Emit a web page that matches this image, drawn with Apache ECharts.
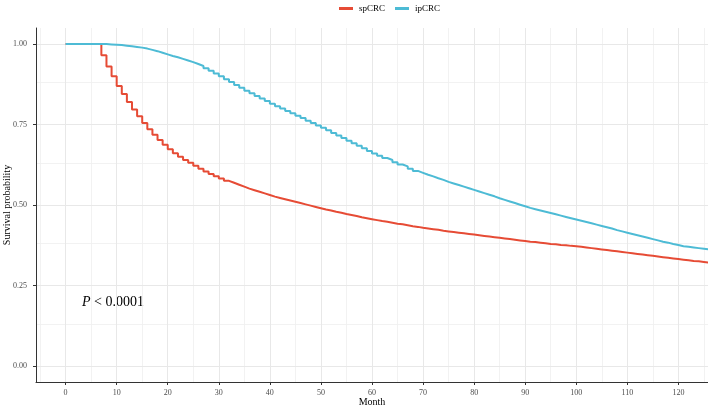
<!DOCTYPE html>
<html>
<head>
<meta charset="utf-8">
<script src="https://cdn.jsdelivr.net/npm/echarts@6/dist/echarts.min.js"></script>
<style>
html,body{margin:0;padding:0;background:#fff;}
#chart{width:708px;height:407px;}
</style>
</head>
<body>
<div id="chart"></div>
<script>
// Month (x)
var months = [0,1,2,3,4,5,6,7,8,9,10,11,12,13,14,15,16,17,18,19,20,21,22,23,24,25,26,27,28,29,30,31,32,33,34,35,36,37,38,39,40,41,42,43,44,45,46,47,48,49,50,51,52,53,54,55,56,57,58,59,60,61,62,63,64,65,66,67,68,69,70,71,72,73,74,75,76,77,78,79,80,81,82,83,84,85,86,87,88,89,90,91,92,93,94,95,96,97,98,99,100,101,102,103,104,105,106,107,108,109,110,111,112,113,114,115,116,117,118,119,120,121,122,123,124,125,126];
// spCRC survival probability
var spCRC = [1,1,1,1,1,1,1,
  0.965,0.93,0.90,0.87,0.845,0.82,0.797,0.776,0.755,0.735,
  0.718,0.702,0.687,0.673,0.661,0.650,0.640,0.631,0.622,0.613,
  0.604,0.596,0.589,0.582,0.575,0.569,0.563,0.557,0.551,0.546,
  0.541,0.536,0.531,0.526,0.522,0.518,0.514,0.510,0.506,0.502,
  0.498,0.494,0.490,0.486,0.483,0.479,0.476,0.472,0.469,0.466,
  0.462,0.459,0.456,0.453,0.450,0.448,0.445,0.442,0.440,0.437,
  0.434,0.432,0.429,0.427,0.425,0.423,0.420,0.418,0.416,0.414,
  0.412,0.410,0.408,0.406,0.404,0.402,0.400,0.398,0.396,0.394,
  0.392,0.390,0.388,0.386,0.385,0.383,0.381,0.379,0.378,0.376,
  0.375,0.373,0.372,0.370,
  0.368,0.366,0.364,0.362,0.360,0.358,0.356,0.354,0.352,0.350,
  0.348,0.346,0.344,0.342,0.340,0.338,0.336,0.334,0.332,0.330,
  0.328,0.326,0.325,0.323,0.321,0.320];
// ipCRC survival probability
var ipCRC = [1,1,1,1,1,1,1,1,
  0.999,0.998,0.997,0.995,0.993,0.991,0.989,0.986,0.982,0.978,
  0.973,0.968,0.963,0.959,0.954,0.949,0.944,0.938,0.932,0.925,
  0.917,0.909,0.900,0.891,0.882,0.873,0.864,0.855,0.847,0.839,
  0.831,0.823,0.815,0.807,0.800,0.792,0.785,0.777,0.770,0.762,
  0.755,0.747,0.740,0.732,0.724,0.716,0.708,0.700,0.692,0.684,
  0.676,0.668,0.660,0.653,0.646,0.640,0.633,0.626,0.620,0.613,
  0.606,0.600,0.594,0.589,0.583,0.578,0.572,0.567,0.562,0.557,
  0.552,0.547,0.542,0.537,0.532,0.527,0.521,0.516,0.511,0.506,
  0.501,0.496,0.491,0.487,0.483,0.479,0.475,0.471,0.467,0.463,
  0.459,0.455,0.451,0.447,0.443,0.439,0.435,0.431,0.427,0.422,
  0.418,0.414,0.410,0.406,0.402,0.398,0.394,0.390,0.386,0.383,
  0.379,0.376,0.372,0.370,0.368,0.366,0.364,0.362,0.361];
// Tick labels
var xTicks = [0,10,20,30,40,50,60,70,80,90,100,110,120];
var yTicks = [0,0.25,0.5,0.75,1];
var xMinorGrid = [-5,5,15,25,35,45,55,65,75,85,95,105,115,125];
var yMinorGrid = [0.125,0.375,0.625,0.875];
var seriesNames = ['spCRC','ipCRC'];

var FONT = '"Liberation Serif","Times New Roman",serif';
var RED = '#E64B35', BLUE = '#4DBBD5';

function pairs(xs, ys){ var o=[]; for (var i=0;i<xs.length;i++) o.push([xs[i], ys[i]]); return o; }

var gridLines = [];
xMinorGrid.forEach(function(v){ gridLines.push({xAxis:v, lineStyle:{color:'#efefef', width:0.8, type:'solid'}}); });
yMinorGrid.forEach(function(v){ gridLines.push({yAxis:v, lineStyle:{color:'#efefef', width:0.8, type:'solid'}}); });
xTicks.forEach(function(v){ gridLines.push({xAxis:v, lineStyle:{color:'#e8e8e8', width:1, type:'solid'}}); });
yTicks.forEach(function(v){ gridLines.push({yAxis:v, lineStyle:{color:'#e8e8e8', width:1, type:'solid'}}); });

var chart = echarts.init(document.getElementById('chart'), null, {renderer:'canvas'});
chart.setOption({
  animation:false,
  backgroundColor:'#fff',
  textStyle:{fontFamily:FONT},
  grid:{left:36, right:0, top:28, bottom:25, containLabel:false, outerBoundsMode:'none'},
  legend:{
    data:seriesNames, top:-1, left:334, itemWidth:14, itemHeight:3, itemGap:10,
    icon:'rect',
    textStyle:{fontFamily:FONT, fontSize:9, color:'#000', padding:[0,0,0,1]}
  },
  xAxis:{
    type:'value', min:-5.8, max:125.8,
    name:'Month', nameLocation:'middle', nameGap:15, nameMoveOverlap:false,
    nameTextStyle:{fontFamily:FONT, fontSize:10, color:'#000'},
    axisLine:{show:true, onZero:false, lineStyle:{color:'#333', width:1}},
    axisTick:{show:true, customValues:xTicks, length:3, lineStyle:{color:'#333'}},
    axisLabel:{show:true, customValues:xTicks, fontFamily:FONT, fontSize:8, color:'#4d4d4d', margin:7},
    splitLine:{show:false}
  },
  yAxis:{
    type:'value', min:-0.05, max:1.05,
    name:'Survival probability', nameLocation:'middle', nameGap:24, nameMoveOverlap:false,
    nameTextStyle:{fontFamily:FONT, fontSize:10, color:'#000'},
    axisLine:{show:true, onZero:false, lineStyle:{color:'#333', width:1}},
    axisTick:{show:true, customValues:yTicks, length:3, lineStyle:{color:'#333'}},
    axisLabel:{show:true, customValues:yTicks, fontFamily:FONT, fontSize:8, color:'#4d4d4d', margin:9,
      formatter:function(v){ return v.toFixed(2); }},
    splitLine:{show:false}
  },
  graphic:[{
    type:'text', left:82, top:295,
    style:{
      text:'{i|P} < 0.0001',
      rich:{i:{fontStyle:'italic', fontFamily:FONT, fontSize:14, fill:'#000'}},
      font:'14px ' + FONT, fill:'#000'
    }
  }],
  series:[
    {
      name:'gridlines', type:'line', data:[], silent:true, z:0,
      markLine:{silent:true, z:0, symbol:['none','none'], label:{show:false}, data:gridLines, animation:false}
    },
    {
      name:seriesNames[0], type:'line', step:'end', data:pairs(months, spCRC),
      showSymbol:false, symbol:'none', z:10,
      itemStyle:{color:RED}, lineStyle:{color:RED, width:2}
    },
    {
      name:seriesNames[1], type:'line', step:'end', data:pairs(months, ipCRC),
      showSymbol:false, symbol:'none', z:11,
      itemStyle:{color:BLUE}, lineStyle:{color:BLUE, width:2}
    }
  ]
});
</script>
</body>
</html>
